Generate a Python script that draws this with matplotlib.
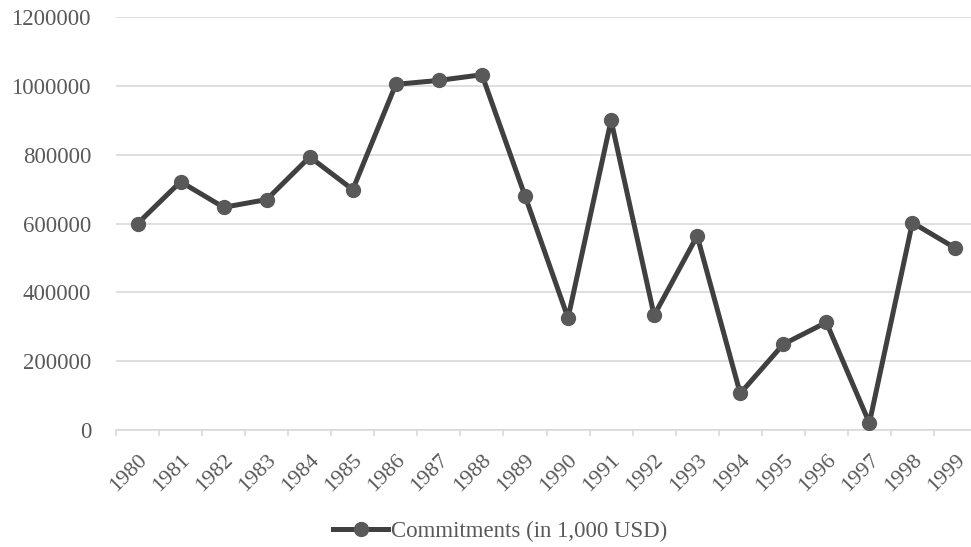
import matplotlib.pyplot as plt
from matplotlib.ticker import FixedLocator

# Commitments per year (in 1,000 USD)
years = ['1980', '1981', '1982', '1983', '1984', '1985', '1986', '1987', '1988', '1989',
         '1990', '1991', '1992', '1993', '1994', '1995', '1996', '1997', '1998', '1999']
commitments = [600000, 722000, 647500, 670000, 794000, 699000, 1005000, 1016500, 1033000, 681000,
               325600, 900500, 333300, 564300, 106300, 249300, 313000, 20300, 602900, 528500]
y_ticks = [0, 200000, 400000, 600000, 800000, 1000000, 1200000]

plt.rcParams['font.family'] = ['Liberation Serif', 'DejaVu Serif']
text_color = '#595959'
grid_color = '#d9d9d9'

fig = plt.figure(figsize=(9.71, 5.47), dpi=100)
ax = fig.add_axes([116 / 971, 1 - 430 / 547, 861 / 971, (430 - 17.3) / 547])

x = list(range(len(years)))
ax.plot(x, commitments, color='#404040', linewidth=3.6, marker='o', markersize=10,
        markerfacecolor='#595959', markeredgecolor='#595959',
        label='Commitments (in 1,000 USD)', zorder=3)

# Axis limits and gridlines
ax.set_xlim(-0.5, len(years) - 0.5)
ax.set_ylim(0, 1200000)
ax.set_yticks(y_ticks)
ax.set_yticklabels([str(v) for v in y_ticks])
ax.grid(axis='y', color=grid_color, linewidth=1.2)
ax.set_axisbelow(True)

for side in ['left', 'top', 'right']:
    ax.spines[side].set_visible(False)
ax.spines['bottom'].set_color(grid_color)
ax.spines['bottom'].set_linewidth(1.2)

# Category labels centred, tick marks between categories
ax.set_xticks(x)
ax.set_xticklabels(years, rotation=45, ha='right', va='top', rotation_mode='anchor')
ax.xaxis.set_minor_locator(FixedLocator([i - 0.5 for i in range(len(years) + 1)]))
ax.tick_params(axis='x', which='major', length=0, pad=15, labelsize=16, labelcolor=text_color)
ax.tick_params(axis='x', which='minor', length=4.5, width=1.2, color=grid_color)
ax.tick_params(axis='y', length=0, pad=18, labelsize=16.5, labelcolor=text_color)

fig.legend(loc='center', bbox_to_anchor=(500 / 971, 1 - 531 / 547), frameon=False,
           handlelength=2.4, handletextpad=0.1, fontsize=16.5, labelcolor=text_color)

fig.savefig('out.png', dpi=100)
